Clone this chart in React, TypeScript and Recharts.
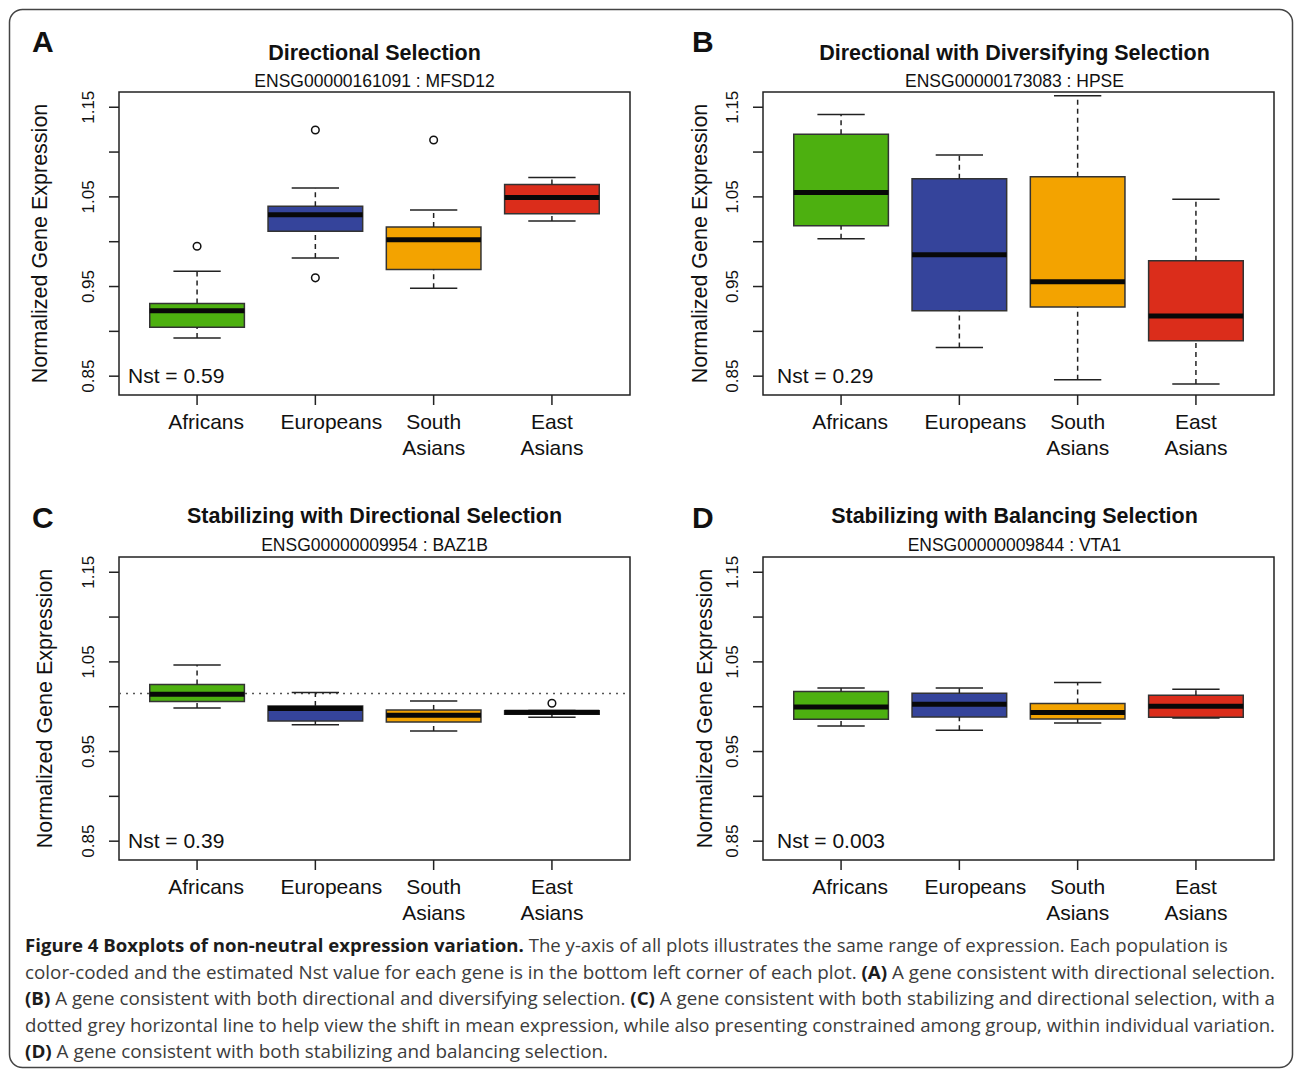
import React from "react";
import { ComposedChart, XAxis, YAxis, ReferenceArea, ReferenceLine, Scatter } from "recharts";

// categories and axis ticks
const populations = ["Africans", "Europeans", "South\nAsians", "East\nAsians"];
const positions = [1, 2, 3, 4];
const labelShift = [9, 16, 0, 0];
const yTicks = [0.85, 0.9, 0.95, 1.0, 1.05, 1.1, 1.15];
const popColors = ["#4db010", "#35449b", "#f3a300", "#db2d1b"];

// A: Directional Selection
const aLow = [0.8925, 0.9817, 0.948, 1.0231];
const aQ1 = [0.9045, 1.0116, 0.969, 1.0313];
const aMed = [0.923, 1.03, 1.0022, 1.0493];
const aQ3 = [0.931, 1.0396, 1.0164, 1.0638];
const aHigh = [0.967, 1.06, 1.0354, 1.0716];
const aOut = [
  { x: 1, y: 0.995 },
  { x: 2, y: 1.1246 },
  { x: 2, y: 0.9597 },
  { x: 3, y: 1.1134 },
];

// B: Directional with Diversifying Selection
const bLow = [1.0034, 0.8821, 0.8459, 0.8414];
const bQ1 = [1.0179, 0.9231, 0.9272, 0.8896];
const bMed = [1.0549, 0.9854, 0.9552, 0.9172];
const bQ3 = [1.1198, 1.0701, 1.0724, 0.9787];
const bHigh = [1.1418, 1.0966, 1.1627, 1.0474];
const bOut: { x: number; y: number }[] = [];

// C: Stabilizing with Directional Selection
const cLow = [0.9986, 0.9799, 0.9728, 0.9881];
const cQ1 = [1.0057, 0.984, 0.9829, 0.9915];
const cMed = [1.0139, 0.9979, 0.9904, 0.9937];
const cQ3 = [1.0248, 1.0008, 0.9964, 0.9956];
const cHigh = [1.0464, 1.0158, 1.0064, 0.9958];
const cOut = [{ x: 4, y: 1.0038 }];
const cMeanLine = 1.0147;

// D: Stabilizing with Balancing Selection
const dLow = [0.9784, 0.9736, 0.9818, 0.9875];
const dQ1 = [0.9859, 0.9885, 0.9863, 0.9881];
const dMed = [0.9997, 1.0027, 0.9934, 1.0005];
const dQ3 = [1.0169, 1.015, 1.0035, 1.0128];
const dHigh = [1.021, 1.021, 1.027, 1.0195];
const dOut: { x: number; y: number }[] = [];

const letters = ["A", "B", "C", "D"];
const titles = [
  "Directional Selection",
  "Directional with Diversifying Selection",
  "Stabilizing with Directional Selection",
  "Stabilizing with Balancing Selection",
];
const genes = [
  "ENSG00000161091 : MFSD12",
  "ENSG00000173083 : HPSE",
  "ENSG00000009954 : BAZ1B",
  "ENSG00000009844 : VTA1",
];
const nstValues = ["0.59", "0.29", "0.39", "0.003"];

const captionLines: [string, boolean][][] = [
  [["Figure 4 Boxplots of non-neutral expression variation.", true], [" The y-axis of all plots illustrates the same range of expression. Each population is", false]],
  [["color-coded and the estimated Nst value for each gene is in the bottom left corner of each plot. ", false], ["(A)", true], [" A gene consistent with directional selection.", false]],
  [["(B)", true], [" A gene consistent with both directional and diversifying selection. ", false], ["(C)", true], [" A gene consistent with both stabilizing and directional selection, with a", false]],
  [["dotted grey horizontal line to help view the shift in mean expression, while also presenting constrained among group, within individual variation.", false]],
  [["(D)", true], [" A gene consistent with both stabilizing and balancing selection.", false]],
];
const captionEnds = [1228, 1275, 1275, 1275, 608];

const FONT = "'Liberation Sans', Arial, Helvetica, sans-serif";
const Y_DOMAIN: [number, number] = [0.829, 1.167];
const X_DOMAIN: [number, number] = [0.34, 4.66];

function XTick(props: any) {
  const { x, y, payload } = props;
  const i = Math.round(payload.value) - 1;
  const lines = populations[i].split("\n");
  const cx = x + labelShift[i];
  return (
    <text x={cx} y={y + 22} textAnchor="middle" fontFamily={FONT} fontSize={21} fill="#111">
      {lines.map((l, k) => (
        <tspan key={k} x={cx} dy={k === 0 ? 0 : 26}>
          {l}
        </tspan>
      ))}
    </text>
  );
}

function YTick(props: any) {
  const { x, y, payload } = props;
  if (Math.round(payload.value * 100) % 10 !== 5) return null;
  const bx = x - 13;
  return (
    <text x={bx} y={y} transform={`rotate(-90 ${bx} ${y})`} textAnchor="middle" fontFamily={FONT} fontSize={17} fill="#111">
      {payload.value.toFixed(2)}
    </text>
  );
}

type PanelProps = {
  low: number[];
  q1: number[];
  med: number[];
  q3: number[];
  high: number[];
  outliers: { x: number; y: number }[];
  meanLine?: number;
  left: number;
  top: number;
};

function BoxPanel({ low, q1, med, q3, high, outliers, meanLine, left, top }: PanelProps) {
  return (
    <div style={{ position: "absolute", left, top, width: 640, height: 470 }}>
      <ComposedChart width={640} height={470} margin={{ top: 92, right: 10, bottom: 0, left: 0 }}>
        <XAxis
          type="number"
          dataKey="x"
          domain={X_DOMAIN}
          ticks={positions}
          interval={0}
          allowDataOverflow
          axisLine={false}
          tickSize={10}
          tickLine={{ stroke: "#222", strokeWidth: 1.5 }}
          height={75}
          tick={<XTick />}
        />
        <YAxis
          type="number"
          dataKey="y"
          domain={Y_DOMAIN}
          ticks={yTicks}
          interval={0}
          allowDataOverflow
          axisLine={false}
          tickSize={10}
          tickMargin={2}
          tickLine={{ stroke: "#222", strokeWidth: 1.5 }}
          width={119}
          tick={<YTick />}
        />
        {meanLine !== undefined && (
          <ReferenceLine y={meanLine} stroke="#555" strokeWidth={1.5} strokeDasharray="2 5" />
        )}
        {positions.map((p, i) => (
          <ReferenceArea
            key={`box${i}`}
            x1={p - 0.4}
            x2={p + 0.4}
            y1={q1[i]}
            y2={q3[i]}
            fill={popColors[i]}
            fillOpacity={1}
            stroke="#333"
            strokeWidth={1.5}
            ifOverflow="visible"
          />
        ))}
        {positions.map((p, i) => (
          <ReferenceLine
            key={`uw${i}`}
            segment={[{ x: p, y: q3[i] }, { x: p, y: high[i] }]}
            stroke="#222"
            strokeWidth={1.5}
            strokeDasharray="5 4"
            ifOverflow="visible"
          />
        ))}
        {positions.map((p, i) => (
          <ReferenceLine
            key={`lw${i}`}
            segment={[{ x: p, y: low[i] }, { x: p, y: q1[i] }]}
            stroke="#222"
            strokeWidth={1.5}
            strokeDasharray="5 4"
            ifOverflow="visible"
          />
        ))}
        {positions.map((p, i) => (
          <ReferenceLine
            key={`uc${i}`}
            segment={[{ x: p - 0.2, y: high[i] }, { x: p + 0.2, y: high[i] }]}
            stroke="#222"
            strokeWidth={1.5}
            ifOverflow="visible"
          />
        ))}
        {positions.map((p, i) => (
          <ReferenceLine
            key={`lc${i}`}
            segment={[{ x: p - 0.2, y: low[i] }, { x: p + 0.2, y: low[i] }]}
            stroke="#222"
            strokeWidth={1.5}
            ifOverflow="visible"
          />
        ))}
        {positions.map((p, i) => (
          <ReferenceLine
            key={`md${i}`}
            segment={[{ x: p - 0.4, y: med[i] }, { x: p + 0.4, y: med[i] }]}
            stroke="#080808"
            strokeWidth={5}
            ifOverflow="visible"
          />
        ))}
        <Scatter
          data={outliers}
          isAnimationActive={false}
          shape={(s: any) => <circle cx={s.cx} cy={s.cy} r={3.8} fill="#fff" stroke="#111" strokeWidth={1.5} />}
        />
        <ReferenceArea
          x1={X_DOMAIN[0]}
          x2={X_DOMAIN[1]}
          y1={Y_DOMAIN[0]}
          y2={Y_DOMAIN[1]}
          fill="none"
          stroke="#222"
          strokeWidth={1.5}
          ifOverflow="visible"
        />
      </ComposedChart>
    </div>
  );
}

const panelLeft = [0, 644, 0, 644];
const panelTop = [0, 0, 465, 465];
const letterX = [32, 692, 32, 692];
const letterY = [52, 52, 528, 528];
const titleShift = [0, -4, 0, -4];
const titleY = [60, 60, 523, 523];
const geneY = [87, 87, 551, 551];
const ylabX = [47, 707, 52, 712];

export default function App() {
  return (
    <div style={{ position: "absolute", left: 0, top: 0, width: 1295, height: 1070, background: "#fff", overflow: "hidden" }}>
      <BoxPanel low={aLow} q1={aQ1} med={aMed} q3={aQ3} high={aHigh} outliers={aOut} left={panelLeft[0]} top={panelTop[0]} />
      <BoxPanel low={bLow} q1={bQ1} med={bMed} q3={bQ3} high={bHigh} outliers={bOut} left={panelLeft[1]} top={panelTop[1]} />
      <BoxPanel low={cLow} q1={cQ1} med={cMed} q3={cQ3} high={cHigh} outliers={cOut} meanLine={cMeanLine} left={panelLeft[2]} top={panelTop[2]} />
      <BoxPanel low={dLow} q1={dQ1} med={dMed} q3={dQ3} high={dHigh} outliers={dOut} left={panelLeft[3]} top={panelTop[3]} />
      <svg width={1295} height={1070} style={{ position: "absolute", left: 0, top: 0, pointerEvents: "none" }}>
        <rect x={9.5} y={9.5} width={1283} height={1058} rx={13} fill="none" stroke="#444" strokeWidth={1.5} />
        {letters.map((l, i) => {
          const ox = panelLeft[i];
          const oy = panelTop[i];
          const cx = ox + 374.5 + titleShift[i];
          const cy = oy + 243.5;
          return (
            <g key={l} fontFamily={FONT} fill="#111">
              <text x={letterX[i]} y={letterY[i]} fontSize={30} fontWeight="bold">{l}</text>
              <text x={cx} y={titleY[i]} fontSize={21.5} fontWeight="bold" textAnchor="middle">{titles[i]}</text>
              <text x={cx} y={geneY[i]} fontSize={17.5} textAnchor="middle">{genes[i]}</text>
              <text x={ylabX[i]} y={cy} fontSize={21.5} textAnchor="middle" transform={`rotate(-90 ${ylabX[i]} ${cy})`}>
                Normalized Gene Expression
              </text>
              <text x={ox + 128 + (i % 2) * 5} y={oy + 383} fontSize={21}>{`Nst = ${nstValues[i]}`}</text>
            </g>
          );
        })}
        {captionLines.map((segs, i) => (
          <text
            key={i}
            x={25}
            y={952 + i * 26.5}
            fontFamily="'Open Sans', sans-serif"
            fontSize={18.5}
            fill="#3c3c3c"
            textLength={captionEnds[i] - 25}
            lengthAdjust="spacingAndGlyphs"
            style={{ whiteSpace: "pre" }}
          >
            {segs.map(([t, b], k) => (
              <tspan key={k} fontWeight={b ? "bold" : "normal"} fill={b ? "#1c1c1c" : "#3c3c3c"}>
                {t}
              </tspan>
            ))}
          </text>
        ))}
      </svg>
    </div>
  );
}
